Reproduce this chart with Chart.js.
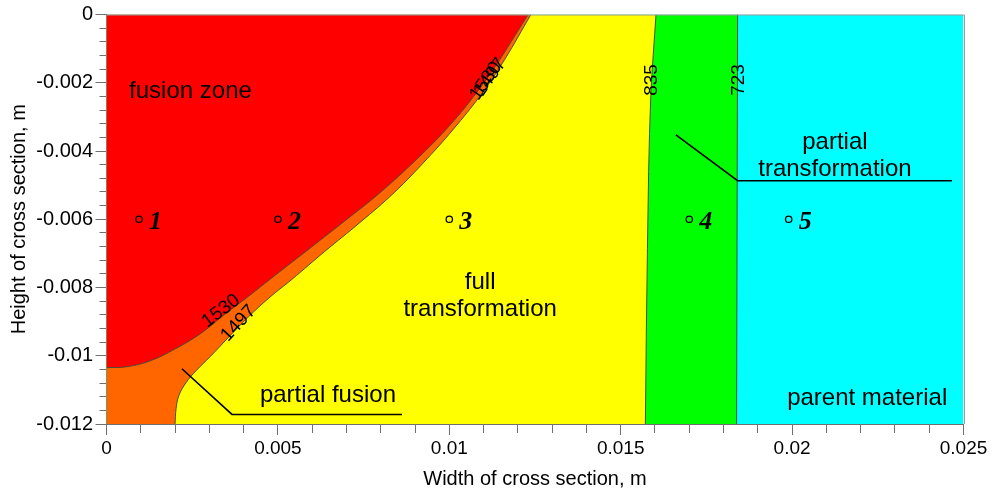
<!DOCTYPE html>
<html>
<head>
<meta charset="utf-8">
<style>
  html, body { margin: 0; padding: 0; background: #ffffff; }
  #wrap { width: 999px; height: 495px; }
</style>
<script src="https://cdn.jsdelivr.net/npm/chart.js@4/dist/chart.umd.min.js"></script>
</head>
<body>
<div id="wrap"><canvas id="weld" width="999" height="495"></canvas></div>
<script>
// Weld cross-section: temperature zones bounded by isotherms (coordinates in metres)

const plateWidth = [0, 0.025];
const plateHeight = [-0.012, 0];

// 1530 isotherm – edge of the fusion zone
const iso1530X = [0, 0.0006, 0.00127, 0.002, 0.00273, 0.00346, 0.00419, 0.00477, 0.00582, 0.0069, 0.00798, 0.00906, 0.01002, 0.01081, 0.01148, 0.01192, 0.0123];
const iso1530Y = [-0.01035, -0.01032, -0.01015, -0.0098, -0.00936, -0.00878, -0.00822, -0.00776, -0.00694, -0.00609, -0.00522, -0.00423, -0.00324, -0.00227, -0.00131, -0.00061, 0];

// 1497 isotherm – edge of the partial fusion band
const iso1497X = [0.002, 0.00203, 0.00211, 0.00232, 0.00261, 0.00302, 0.00354, 0.00413, 0.00477, 0.00541, 0.00637, 0.0074, 0.00839, 0.00935, 0.01022, 0.01098, 0.01162, 0.01238];
const iso1497Y = [-0.012, -0.01155, -0.01117, -0.01079, -0.01044, -0.01003, -0.00948, -0.00887, -0.00828, -0.00776, -0.00694, -0.00609, -0.00522, -0.00423, -0.00324, -0.00227, -0.00131, 0];

// 835 isotherm – end of full transformation
const iso835X = [0.01572, 0.01578, 0.01588, 0.01603];
const iso835Y = [-0.012, -0.00685, -0.00236, 0];

// 723 isotherm – end of partial transformation
const iso723X = [0.01838, 0.01841];
const iso723Y = [-0.012, 0];

// Measuring points
const probeIds = ['1', '2', '3', '4', '5'];
const probeX = [0.00095, 0.005, 0.01, 0.017, 0.0199];
const probeY = [-0.006, -0.006, -0.006, -0.006, -0.006];

// Leader lines for the zone captions
const fusionLeaderX = [0.0022, 0.00366, 0.00862];
const fusionLeaderY = [-0.01038, -0.01172, -0.01172];
const transLeaderX = [0.01661, 0.01841, 0.02466];
const transLeaderY = [-0.00353, -0.00487, -0.00487];

// Axis tick labels
const xTickLabels = ['0', '0.005', '0.01', '0.015', '0.02', '0.025'];
const yTickLabels = ['-0.012', '-0.01', '-0.008', '-0.006', '-0.004', '-0.002', '0'];
const xMajorStep = 0.005, xMinorStep = 0.001;
const yMajorStep = 0.002, yMinorStep = 0.0004;

const FONT = '"Liberation Sans", Arial, Helvetica, sans-serif';
const AXIS = '#707070';
Chart.defaults.font.family = FONT;
Chart.defaults.color = '#000';

const pts = (xs, ys) => xs.map((x, i) => ({ x, y: ys[i] }));

function majorIndex(v, base, step) {
  const k = (v - base) / step;
  return Math.abs(k - Math.round(k)) < 1e-6 ? Math.round(k) : -1;
}

// curve shapes: straight segments, free bezier, or monotone along the height
const SHAPES = {
  straight: { cubicInterpolationMode: 'default', tension: 0 },
  bezier: { cubicInterpolationMode: 'default', tension: 0.4 },
  monotone: { cubicInterpolationMode: 'monotone', tension: 0.4 }
};

// Each zone is everything left of its bounding isotherm, filled to the left plate edge
const zone = (data, color, order, shape) => Object.assign({
  data, order, fill: { value: plateWidth[0] }, backgroundColor: color,
  borderWidth: 0, pointRadius: 0, pointHoverRadius: 0
}, SHAPES[shape]);
const isoLine = (data, shape) => Object.assign({
  data, order: 3, fill: false, borderColor: '#4a4a3a', borderWidth: 1,
  pointRadius: 0, pointHoverRadius: 0
}, SHAPES[shape]);
const leader = (data) => Object.assign({
  data, order: 2, fill: false, borderColor: '#000', borderWidth: 1.6,
  pointRadius: 0, pointHoverRadius: 0
}, SHAPES.straight);

// Captions, contour values and probe numbers
const annotate = {
  id: 'annotate',
  afterDatasetsDraw(chart) {
    const { ctx, scales: { x, y } } = chart;
    const px = v => x.getPixelForValue(v);
    const py = v => y.getPixelForValue(v);
    ctx.save();
    ctx.fillStyle = '#000';

    ctx.font = '24px ' + FONT;
    ctx.textAlign = 'center';
    ctx.textBaseline = 'alphabetic';
    const captions = [
      { lines: ['fusion zone'], x: 0.00245, y: -0.00246 },
      { lines: ['full', 'transformation'], x: 0.0109, y: -0.00805 },
      { lines: ['partial', 'transformation'], x: 0.02125, y: -0.00394 },
      { lines: ['partial fusion'], x: 0.00646, y: -0.01136 },
      { lines: ['parent material'], x: 0.02219, y: -0.01143 }
    ];
    captions.forEach(c => c.lines.forEach((t, i) => ctx.fillText(t, px(c.x), py(c.y) + i * 27)));

    ctx.font = '19px ' + FONT;
    ctx.textBaseline = 'middle';
    const isoTags = [
      { text: '1530', x: 0.00334, y: -0.00869, a: -37 },
      { text: '1497', x: 0.00385, y: -0.00905, a: -47 },
      { text: '1530', x: 0.01107, y: -0.00195, a: -55 },
      { text: '1497', x: 0.01119, y: -0.00184, a: -55 },
      { text: '835', x: 0.0159, y: -0.00192, a: -90 },
      { text: '723', x: 0.01843, y: -0.00192, a: -90 }
    ];
    isoTags.forEach(t => {
      ctx.save();
      ctx.translate(px(t.x), py(t.y));
      ctx.rotate(t.a * Math.PI / 180);
      ctx.fillText(t.text, 0, 0);
      ctx.restore();
    });

    const meta = chart.getDatasetMeta(chart.data.datasets.length - 1);
    ctx.font = 'italic bold 26px "Liberation Serif", "Times New Roman", serif';
    ctx.textAlign = 'left';
    ctx.textBaseline = 'alphabetic';
    meta.data.forEach((pt, i) => ctx.fillText(probeIds[i], pt.x + 10, pt.y + 10));

    ctx.restore();
  },
  afterDraw(chart) {
    const { ctx, chartArea: a } = chart;
    ctx.save();
    ctx.strokeStyle = '#9a9a9a';
    ctx.lineWidth = 1;
    ctx.beginPath();
    ctx.moveTo(a.left, a.top + 0.5);
    ctx.lineTo(Math.round(a.right) + 0.5, a.top + 0.5);
    ctx.lineTo(Math.round(a.right) + 0.5, a.bottom);
    ctx.stroke();
    ctx.restore();
  }
};

new Chart(document.getElementById('weld'), {
  type: 'line',
  data: {
    datasets: [
      zone([{ x: plateWidth[1], y: plateHeight[0] }, { x: plateWidth[1], y: plateHeight[1] }], '#00ffff', 20, 'straight'),
      zone(pts(iso723X, iso723Y), '#00ff00', 18, 'straight'),
      zone(pts(iso835X, iso835Y), '#ffff00', 16, 'monotone'),
      zone(pts(iso1497X, iso1497Y), '#ff6600', 14, 'bezier'),
      zone(pts(iso1530X, iso1530Y), '#ff0000', 13, 'bezier'),
      isoLine(pts(iso1530X, iso1530Y), 'bezier'),
      isoLine(pts(iso1497X, iso1497Y), 'bezier'),
      isoLine(pts(iso835X, iso835Y), 'monotone'),
      isoLine(pts(iso723X, iso723Y), 'straight'),
      leader(pts(fusionLeaderX, fusionLeaderY)),
      leader(pts(transLeaderX, transLeaderY)),
      {
        data: pts(probeX, probeY), order: 1, showLine: false, fill: false,
        pointRadius: 3.2, pointHoverRadius: 3.2, pointBorderWidth: 1.3,
        pointBorderColor: '#000', pointBackgroundColor: 'rgba(0,0,0,0)'
      }
    ]
  },
  options: {
    indexAxis: 'y',
    responsive: false,
    animation: false,
    events: [],
    layout: { padding: { left: 0, right: 35.5, top: 12, bottom: 0 } },
    plugins: { legend: { display: false }, tooltip: { enabled: false } },
    scales: {
      x: {
        type: 'linear', position: 'bottom', z: 1,
        min: plateWidth[0], max: plateWidth[1],
        afterFit(s) { s.height = 71; },
        border: { display: true, color: AXIS, width: 1 },
        grid: {
          display: true, drawOnChartArea: false, drawTicks: true,
          tickLength: 11, tickColor: AXIS, tickWidth: 1,
          tickBorderDash: c => majorIndex(c.tick.value, plateWidth[0], xMajorStep) >= 0 ? [] : [8, 40]
        },
        ticks: {
          stepSize: xMinorStep, autoSkip: false, maxRotation: 0, minRotation: 0,
          padding: 2, color: '#000', font: { size: 19 },
          callback: v => { const k = majorIndex(v, plateWidth[0], xMajorStep); return k >= 0 ? xTickLabels[k] : ''; }
        },
        title: {
          display: true, text: 'Width of cross section, m', color: '#000',
          font: { size: 20 }, padding: { top: 0, bottom: 4 }
        }
      },
      y: {
        type: 'linear', position: 'left', z: 1,
        min: plateHeight[0], max: plateHeight[1],
        afterFit(s) { s.width = 106.5; },
        border: { display: true, color: AXIS, width: 1 },
        grid: {
          display: true, drawOnChartArea: false, drawTicks: true,
          tickLength: 11, tickColor: AXIS, tickWidth: 1,
          tickBorderDash: c => majorIndex(c.tick.value, plateHeight[0], yMajorStep) >= 0 ? [] : [0, 4, 7, 40]
        },
        ticks: {
          stepSize: yMinorStep, autoSkip: false,
          padding: 2.5, color: '#000', font: { size: 20 },
          callback: v => { const k = majorIndex(v, plateHeight[0], yMajorStep); return k >= 0 ? yTickLabels[k] : ''; }
        },
        title: {
          display: true, text: 'Height of cross section, m', color: '#000',
          font: { size: 20 }, padding: { top: 7, bottom: 0 }
        }
      }
    }
  },
  plugins: [annotate]
});
</script>
</body>
</html>
